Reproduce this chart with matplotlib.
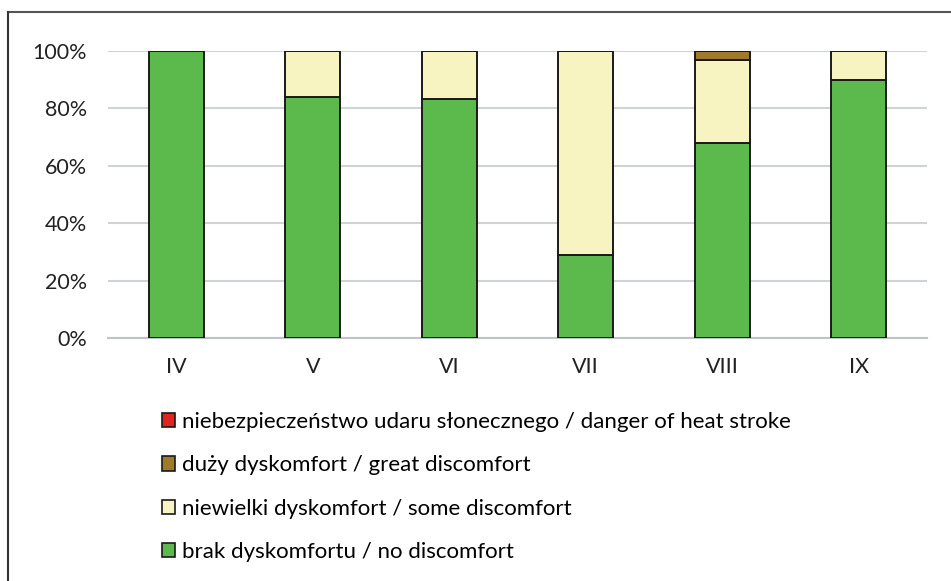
import matplotlib
matplotlib.use("Agg")
import matplotlib.pyplot as plt
from matplotlib.patches import Patch
from matplotlib.lines import Line2D
from matplotlib.ticker import PercentFormatter
import numpy as np

months = ["IV", "V", "VI", "VII", "VIII", "IX"]
no_discomfort = [100, 84, 83.3, 29, 68, 90]
some_discomfort = [0, 16, 16.7, 71, 29, 10]
great_discomfort = [0, 0, 0, 0, 3, 0]
heat_stroke = [0, 0, 0, 0, 0, 0]

labels = [
    "niebezpieczeństwo udaru słonecznego / danger of heat stroke",
    "duży dyskomfort / great discomfort",
    "niewielki dyskomfort / some discomfort",
    "brak dyskomfortu / no discomfort",
]
colors = {"green": "#5cb94b", "light": "#f7f4c1", "brown": "#a07a2c", "red": "#e3241e"}

plt.rcParams["font.family"] = ["Lato", "DejaVu Sans"]

fig = plt.figure(figsize=(9.51, 5.81), dpi=100)
ax = fig.add_axes([108 / 951, 1 - 338 / 581, (927 - 108) / 951, (338 - 51) / 581])

x = np.arange(len(months))
w = 0.40
bottom = np.zeros(len(months))
for vals, c in [(no_discomfort, colors["green"]), (some_discomfort, colors["light"]),
                (great_discomfort, colors["brown"]), (heat_stroke, colors["red"])]:
    vals = np.array(vals, dtype=float)
    ax.bar(x, vals, w, bottom=bottom, color=c, edgecolor="#1a1a1a", linewidth=1.4, zorder=3)
    bottom += vals

ax.set_xlim(-0.5, len(months) - 0.5)
ax.set_ylim(0, 100)
ax.set_yticks(np.arange(0, 101, 20))
ax.yaxis.set_major_formatter(PercentFormatter(decimals=0))
ax.set_xticks(x)
ax.set_xticklabels(months)
ax.tick_params(axis="both", length=0, labelsize=15.5, colors="#222222")
ax.tick_params(axis="y", pad=15)
ax.tick_params(axis="x", pad=14)
ax.grid(axis="y", color="#d0d3d6", linewidth=1.5, zorder=0)
for s in ["top", "right", "left"]:
    ax.spines[s].set_visible(False)
ax.spines["bottom"].set_color("#c0c3c6")
ax.spines["bottom"].set_linewidth(1.5)
ax.spines["bottom"].set_zorder(2)

handles = [Patch(facecolor=colors[k], edgecolor="#1a1a1a", linewidth=1.2)
           for k in ["red", "brown", "light", "green"]]
fig.legend(handles, labels, loc="upper left", bbox_to_anchor=(162 / 951, 1 - 412 / 581),
           frameon=False, fontsize=16, handlelength=0.6, handleheight=0.6,
           handletextpad=0.3, labelspacing=1.05, borderpad=0, borderaxespad=0)

# frame lines around the figure
fig.add_artist(Line2D([8 / 951, 1.0], [1 - 12 / 581, 1 - 12 / 581], color="#555555", linewidth=1.5))
fig.add_artist(Line2D([8 / 951, 8 / 951], [0.0, 1 - 12 / 581], color="#333333", linewidth=1.5))

fig.savefig("out.png", dpi=100)
